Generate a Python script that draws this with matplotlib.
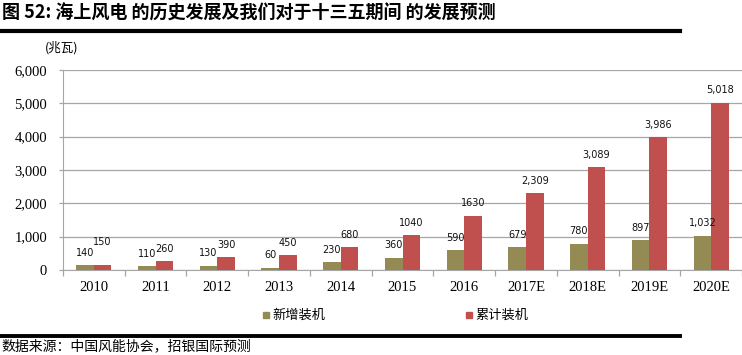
import matplotlib
matplotlib.use("Agg")
import matplotlib.pyplot as plt
import numpy as np
from matplotlib.lines import Line2D
from matplotlib.patches import Rectangle

plt.rcParams['font.family'] = ['Noto Sans CJK SC', 'DejaVu Sans']

categories = ["2010", "2011", "2012", "2013", "2014", "2015", "2016", "2017E", "2018E", "2019E", "2020E"]
new_install = [140, 110, 130, 60, 230, 360, 590, 679, 780, 897, 1032]
cumulative = [150, 260, 390, 450, 680, 1040, 1630, 2309, 3089, 3986, 5018]
new_labels = ["140", "110", "130", "60", "230", "360", "590", "679", "780", "897", "1,032"]
cum_labels = ["150", "260", "390", "450", "680", "1040", "1630", "2,309", "3,089", "3,986", "5,018"]
yticks = [0, 1000, 2000, 3000, 4000, 5000, 6000]
ytick_labels = ["0", "1,000", "2,000", "3,000", "4,000", "5,000", "6,000"]
series_names = ["新增装机", "累计装机"]

c_new = "#948A54"
c_cum = "#C0504D"
grid_c = "#A6A6A6"

fig = plt.figure(figsize=(7.42, 3.55), dpi=100)
ax = fig.add_axes([63/742, 1-270/355, 679/742, 200/355])

x = np.arange(len(categories))
w = 0.285
b1 = ax.bar(x - w/2, new_install, w, color=c_new, zorder=3)
b2 = ax.bar(x + w/2, cumulative, w, color=c_cum, zorder=3)

for rect, lab in zip(b1, new_labels):
    ax.annotate(lab, (rect.get_x() + rect.get_width()/2, rect.get_height()),
                xytext=(0, 9), textcoords="offset points", ha="center", va="center",
                fontsize=7, family="DejaVu Sans", color="#111111")
for rect, lab, nv in zip(b2, cum_labels, new_install):
    cv = rect.get_height()
    off = 16.5 if abs(cv - nv) < 100 else 9
    ax.annotate(lab, (rect.get_x() + rect.get_width()/2, cv),
                xytext=(0, off), textcoords="offset points", ha="center", va="center",
                fontsize=7, family="DejaVu Sans", color="#111111")

ax.set_xlim(-0.5, len(categories) - 0.5)
ax.set_ylim(0, 6000)
ax.set_yticks(yticks)
ax.set_yticklabels(ytick_labels, family="Liberation Serif", fontsize=10.5)
ax.yaxis.grid(True, color=grid_c, linewidth=0.9, zorder=0)
ax.tick_params(axis="y", length=3, width=0.9, color=grid_c, pad=8.5)
ax.set_xticks(x)
ax.set_xticklabels(categories, family="Liberation Serif", fontsize=10.5)
ax.tick_params(axis="x", length=0, pad=8)
ax.set_xticks(np.arange(-0.5, len(categories), 1), minor=True)
ax.tick_params(axis="x", which="minor", length=4, width=0.9, color=grid_c, direction="out")
for s in ["top", "right"]:
    ax.spines[s].set_visible(False)
ax.spines["left"].set_color(grid_c)
ax.spines["bottom"].set_color(grid_c)

# title
fig.text(2/742, 1-13/355, "图 52: 海上风电 的历史发展及我们对于十三五期间 的发展预测",
         fontsize=13, fontweight="bold", va="center", ha="left")
fig.add_artist(Line2D([0, 680/742], [1-31/355, 1-31/355], color="black", linewidth=3))
fig.text(45/742, 1-48/355, "(兆瓦)", fontsize=9, va="center", ha="left")

# legend
for xs, col, name in [(263, c_new, series_names[0]), (466, c_cum, series_names[1])]:
    fig.add_artist(Rectangle((xs/742, 1-318/355), 6/742, 6/355, color=col, transform=fig.transFigure))
    fig.text((xs+9)/742, 1-315.5/355, name, fontsize=9.5, va="center", ha="left")

fig.add_artist(Line2D([0, 680/742], [1-335.5/355, 1-335.5/355], color="black", linewidth=2.8))
fig.text(1/742, 1-346/355, "数据来源：中国风能协会，招银国际预测", fontsize=10, style="italic",
         va="center", ha="left")

fig.savefig("out.png", dpi=100)
